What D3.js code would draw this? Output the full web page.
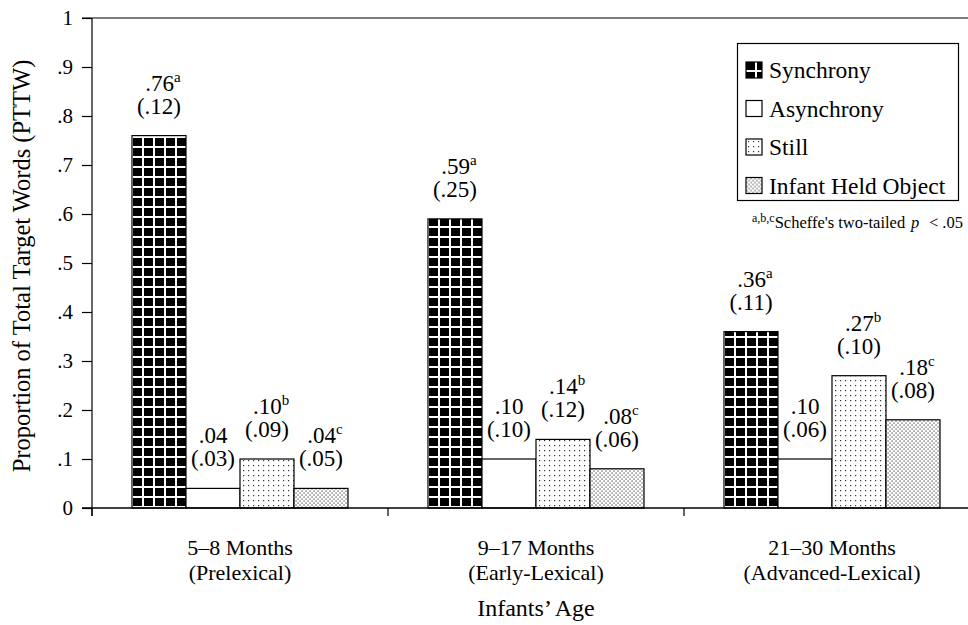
<!DOCTYPE html>
<html>
<head>
<meta charset="utf-8">
<script src="https://cdn.jsdelivr.net/npm/d3@7"></script>
<style>
  body { margin: 0; background: #fff; }
  svg { display: block; font-family: "Liberation Serif", "Times New Roman", serif; }
</style>
</head>
<body>
<svg id="chart" width="968" height="625"></svg>
<script>
// data
var ageGroups = ["5–8 Months", "9–17 Months", "21–30 Months"];
var ageSubLabels = ["(Prelexical)", "(Early-Lexical)", "(Advanced-Lexical)"];
var conditions = ["Synchrony", "Asynchrony", "Still", "Infant Held Object"];
var meanPTTW = [
  [0.76, 0.04, 0.10, 0.04],
  [0.59, 0.10, 0.14, 0.08],
  [0.36, 0.10, 0.27, 0.18]
];
var sdPTTW = [
  [0.12, 0.03, 0.09, 0.05],
  [0.25, 0.10, 0.12, 0.06],
  [0.11, 0.06, 0.10, 0.08]
];
var sigMarks = [
  ["a", "", "b", "c"],
  ["a", "", "b", "c"],
  ["a", "", "b", "c"]
];
var yTicks = [0, 0.1, 0.2, 0.3, 0.4, 0.5, 0.6, 0.7, 0.8, 0.9, 1];

var svg = d3.select("#chart");
var defs = svg.append("defs");

var y = d3.scaleLinear().domain([0, 1]).range([508, 18]);
var x0 = d3.scaleBand().domain(ageGroups).range([92, 980]);
var x1 = d3.scaleBand().domain(conditions).range([40, 256]);

var fmt = function(v){ return d3.format(".2f")(v).replace(/^0/, ""); };
var tickFmt = function(v){ return v === 0 ? "0" : v === 1 ? "1" : d3.format(".1f")(v).replace(/^0/, ""); };

// build flat bar list
var bars = [];
ageGroups.forEach(function(g, gi){
  conditions.forEach(function(c, ci){
    bars.push({g: g, gi: gi, c: c, ci: ci, v: meanPTTW[gi][ci], sd: sdPTTW[gi][ci], mark: sigMarks[gi][ci],
      x: x0(g) + x1(c)});
  });
});

// fill patterns, one per bar so the grid starts at the bar edge
function makePattern(id, ci, ox, oy){
  var p;
  if(ci === 0){
    p = defs.append("pattern").attr("id", id).attr("patternUnits", "userSpaceOnUse")
      .attr("x", ox).attr("y", oy).attr("width", 11).attr("height", 10);
    p.append("rect").attr("width", 11).attr("height", 10).attr("fill", "#000");
    p.append("rect").attr("x", 9).attr("width", 2.2).attr("height", 10).attr("fill", "#fff");
    p.append("rect").attr("y", 8).attr("width", 11).attr("height", 2.2).attr("fill", "#fff");
  } else if(ci === 2){
    p = defs.append("pattern").attr("id", id).attr("patternUnits", "userSpaceOnUse")
      .attr("x", ox).attr("y", oy).attr("width", 5).attr("height", 5);
    p.append("rect").attr("width", 5).attr("height", 5).attr("fill", "#fff");
    p.append("rect").attr("x", 2).attr("y", 2).attr("width", 1.2).attr("height", 1.2).attr("fill", "#333");
  } else if(ci === 3){
    p = defs.append("pattern").attr("id", id).attr("patternUnits", "userSpaceOnUse")
      .attr("x", ox).attr("y", oy).attr("width", 4).attr("height", 4);
    p.append("rect").attr("width", 4).attr("height", 4).attr("fill", "#fff");
    p.append("rect").attr("x", 0.5).attr("y", 0.5).attr("width", 1.1).attr("height", 1.1).attr("fill", "#222");
    p.append("rect").attr("x", 2.5).attr("y", 2.5).attr("width", 1.1).attr("height", 1.1).attr("fill", "#222");
  }
}
function fillFor(d, id){
  return d.ci === 1 ? "#fff" : "url(#" + id + ")";
}

bars.forEach(function(d, i){ d.pid = "pat" + i; makePattern(d.pid, d.ci, d.x + 1, y(0)); });

// plot frame: top line + y axis
svg.append("line").attr("x1", 82).attr("x2", 968).attr("y1", y(1)).attr("y2", y(1))
  .attr("stroke", "#000").attr("stroke-width", 1.2);

var yAxis = svg.append("g").attr("transform", "translate(92,0)")
  .call(d3.axisLeft(y).tickValues(yTicks).tickFormat(tickFmt).tickSize(10).tickPadding(9));
yAxis.select(".domain").attr("d", "M0," + (y(0) + 8) + "V" + y(1)).attr("stroke-width", 1.2);
yAxis.selectAll("text").attr("font-size", 21).attr("font-family", "Liberation Serif").attr("fill", "#000");
yAxis.selectAll(".tick line").attr("stroke-width", 1.2);

// bars
svg.append("g").selectAll("rect").data(bars).enter().append("rect")
  .attr("x", function(d){ return d.x; })
  .attr("y", function(d){ return y(d.v); })
  .attr("width", x1.bandwidth())
  .attr("height", function(d){ return y(0) - y(d.v); })
  .attr("fill", function(d){ return fillFor(d, d.pid); })
  .attr("stroke", "#000").attr("stroke-width", 1.2);

// x axis baseline with ticks at group boundaries
svg.append("line").attr("x1", 82).attr("x2", 968).attr("y1", y(0)).attr("y2", y(0))
  .attr("stroke", "#000").attr("stroke-width", 1.4);
svg.append("g").selectAll("line").data(ageGroups).enter().append("line")
  .attr("x1", function(d){ return x0(d); }).attr("x2", function(d){ return x0(d); })
  .attr("y1", y(0)).attr("y2", y(0) + 8).attr("stroke", "#000").attr("stroke-width", 1.2);

var xl = svg.append("g").attr("font-size", 22).attr("text-anchor", "middle");
xl.selectAll("text.l1").data(ageGroups).enter().append("text").attr("class", "l1")
  .attr("x", function(d){ return x0(d) + x0.bandwidth() / 2; }).attr("y", 555)
  .text(function(d){ return d; });
xl.selectAll("text.l2").data(ageSubLabels).enter().append("text").attr("class", "l2")
  .attr("x", function(d, i){ return x0(ageGroups[i]) + x0.bandwidth() / 2; }).attr("y", 580)
  .text(function(d){ return d; });

// value labels
var vl = svg.append("g").attr("font-size", 23).attr("text-anchor", "middle");
bars.forEach(function(d){
  var cx = d.x + x1.bandwidth() / 2, top = y(d.v);
  var t1 = vl.append("text").attr("x", cx + (d.mark ? 4 : 0)).attr("y", top - 45);
  t1.append("tspan").text(fmt(d.v));
  if(d.mark) t1.append("tspan").attr("font-size", 15).attr("dy", -9).text(d.mark);
  vl.append("text").attr("x", cx).attr("y", top - 22).text("(" + fmt(d.sd) + ")");
});

// axis titles
svg.append("text").attr("x", 536).attr("y", 616).attr("text-anchor", "middle")
  .attr("font-size", 24).text("Infants’ Age");
svg.append("text").attr("transform", "translate(30,266) rotate(-90)").attr("text-anchor", "middle")
  .attr("font-size", 24.5).text("Proportion of Total Target Words (PTTW)");

// legend
var lg = svg.append("g");
lg.append("rect").attr("x", 737.5).attr("y", 43.5).attr("width", 221).attr("height", 157)
  .attr("fill", "#fff").attr("stroke", "#000").attr("stroke-width", 1.2);
conditions.forEach(function(c, ci){
  var cy = 70 + ci * 38.5;
  var id = "leg" + ci;
  makePattern(id, ci, 746, cy - 8);
  lg.append("rect").attr("x", 746).attr("y", cy - 8).attr("width", 16).attr("height", 16)
    .attr("fill", ci === 1 ? "#fff" : "url(#" + id + ")").attr("stroke", "#000").attr("stroke-width", 1.2);
  lg.append("text").attr("x", 769).attr("y", cy + 8).attr("font-size", 23.5).text(c);
});

// footnote
var fn = svg.append("g").attr("font-size", 16.5);
var t = fn.append("text").attr("x", 752).attr("y", 228);
t.append("tspan").attr("font-size", 12).attr("dy", -6).text("a,b,c");
t.append("tspan").attr("dy", 6).text("Scheffe's two-tailed");
fn.append("text").attr("x", 911).attr("y", 228).attr("font-style", "italic").text("p");
fn.append("text").attr("x", 963).attr("y", 228).attr("text-anchor", "end").text("< .05");
</script>
</body>
</html>
